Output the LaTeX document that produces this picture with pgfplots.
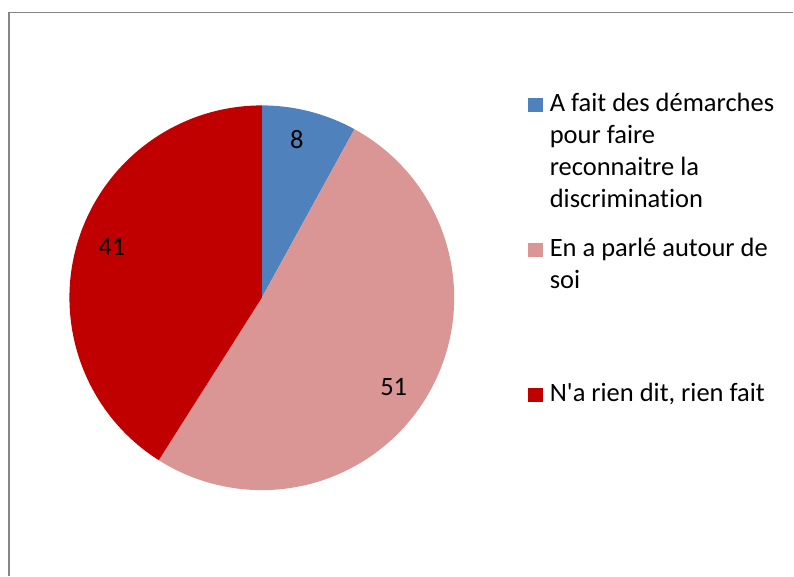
\documentclass[border=0pt]{standalone}
\usepackage{fontspec}
\setmainfont{Carlito}[Ligatures={TeXOff,NoCommon}]
\usepackage{pgfplots}
\usepackage{pgfplotstable}
\pgfplotsset{compat=1.18}
\definecolor{sliceA}{HTML}{4F81BD}
\definecolor{sliceB}{HTML}{D99694}
\definecolor{sliceC}{HTML}{C00000}
\definecolor{frameC}{HTML}{868686}
\newcommand\lf{\fontsize{26.5pt}{32.3pt}\selectfont}
\pgfplotstableread{
idx value
0 8
1 51
2 41
}\piedata
\begin{document}
\begin{tikzpicture}
\begin{axis}[
  scale only axis, width=794pt, height=576pt,
  xmin=0, xmax=794, ymin=0, ymax=576,
  hide axis, clip=false,
]
\path (axis cs:0,0) rectangle (axis cs:794,576);
% frame
\draw[frameC, line width=2pt] (axis cs:9,0) -- (axis cs:9,563.5);
\draw[frameC, line width=1.2pt] (axis cs:8,563.5) -- (axis cs:794,563.5);
% pie slices from data
\pgfplotstablegetelem{0}{value}\of\piedata \let\va\pgfplotsretval
\pgfplotstablegetelem{1}{value}\of\piedata \let\vb\pgfplotsretval
\pgfplotstablegetelem{2}{value}\of\piedata \let\vc\pgfplotsretval
\pgfmathsetmacro\aA{90-3.6*\va}
\pgfmathsetmacro\aB{\aA-3.6*\vb}
\pgfmathsetmacro\aC{\aB-3.6*\vc}
\fill[sliceA] (axis cs:262,278) -- ++(90:192.5pt) arc[start angle=90, end angle=\aA, radius=192.5pt] -- cycle;
\fill[sliceB] (axis cs:262,278) -- ++(\aA:192.5pt) arc[start angle=\aA, end angle=\aB, radius=192.5pt] -- cycle;
\fill[sliceC] (axis cs:262,278) -- ++(\aB:192.5pt) arc[start angle=\aB, end angle=\aC, radius=192.5pt] -- cycle;
% data labels
\node at (axis cs:297,436) {\lf\va};
\node at (axis cs:394,189) {\lf\vb};
\node at (axis cs:112,329) {\lf\vc};
% legend
\fill[sliceA] (axis cs:528,464) rectangle (axis cs:543,478);
\node[anchor=base west, inner sep=0pt] at (axis cs:550,464) {\lf A fait des démarches};
\node[anchor=base west, inner sep=0pt] at (axis cs:550,432) {\lf pour faire};
\node[anchor=base west, inner sep=0pt] at (axis cs:550,400) {\lf reconnaitre la};
\node[anchor=base west, inner sep=0pt] at (axis cs:550,368) {\lf discrimination};
\fill[sliceB] (axis cs:528,319) rectangle (axis cs:543,333);
\node[anchor=base west, inner sep=0pt] at (axis cs:550,319) {\lf En a parlé autour de};
\node[anchor=base west, inner sep=0pt] at (axis cs:550,287) {\lf soi};
\fill[sliceC] (axis cs:528,174) rectangle (axis cs:543,188);
\node[anchor=base west, inner sep=0pt] at (axis cs:550,174) {\lf N'a rien dit, rien fait};
\end{axis}
\end{tikzpicture}
\end{document}
